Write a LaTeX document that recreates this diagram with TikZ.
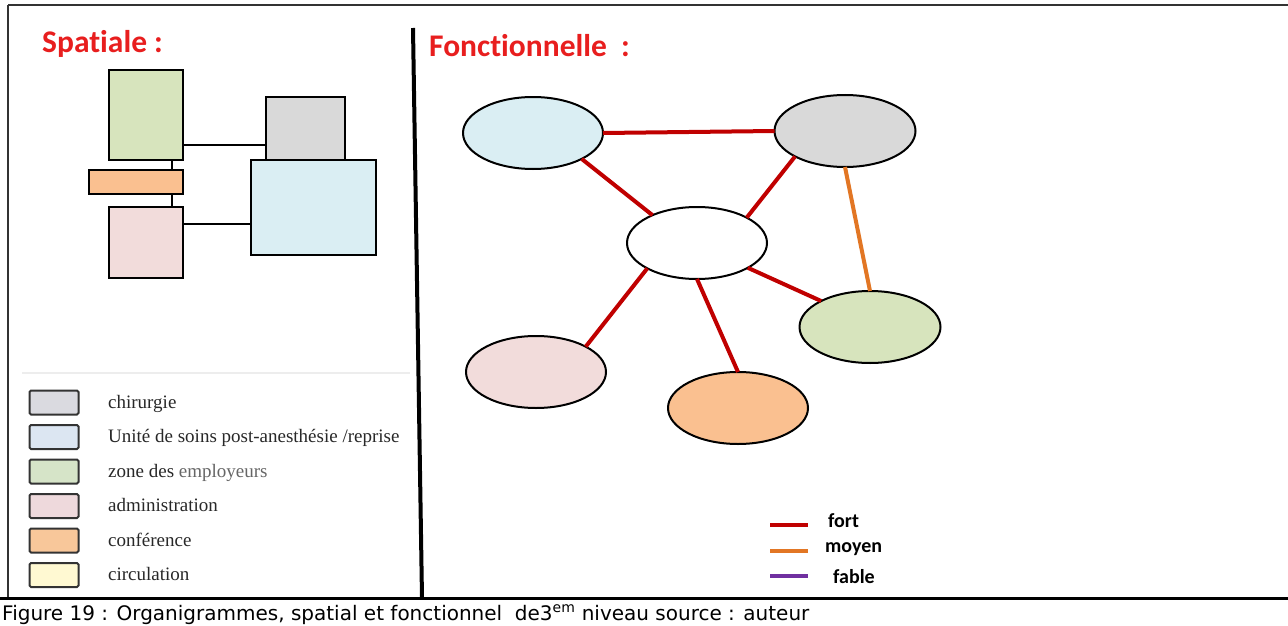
\documentclass[tikz,border=0pt]{standalone}
\usepackage{fontspec}
\setmainfont{Liberation Serif}
\newfontfamily\carlito[Ligatures=NoCommon]{Carlito}
\newfontfamily\dejavu{DejaVu Sans}
\usetikzlibrary{shapes.geometric}

\definecolor{titlered}{RGB}{232,30,30}
\definecolor{strongred}{RGB}{192,0,0}
\definecolor{midorange}{RGB}{226,118,36}
\definecolor{weakpurple}{RGB}{112,48,160}
\definecolor{cgreen}{RGB}{215,228,189}
\definecolor{cgray}{RGB}{217,217,217}
\definecolor{cblue}{RGB}{218,238,243}
\definecolor{corange}{RGB}{250,192,144}
\definecolor{cpink}{RGB}{242,220,219}
\definecolor{lgray}{RGB}{218,218,224}
\definecolor{lblue}{RGB}{220,230,242}
\definecolor{lgreen}{RGB}{214,228,200}
\definecolor{lpink}{RGB}{238,217,220}
\definecolor{lorange}{RGB}{248,199,154}
\definecolor{lyellow}{RGB}{255,249,210}
\definecolor{legtext}{RGB}{40,40,40}

\tikzset{
  spbox/.style={draw=black, line width=2.5pt, rectangle, inner sep=0pt, outer sep=0pt},
  splink/.style={draw=black, line width=2pt},
  fnode/.style={draw=black, line width=2pt, ellipse, inner sep=0pt, outer sep=0pt,
                minimum width=140pt, minimum height=72pt},
  strong/.style={draw=strongred, line width=4pt},
  medium/.style={draw=midorange, line width=4pt},
  swatch/.style={draw=black!80, line width=2pt, rectangle, rounded corners=1.5pt,
                 minimum width=49pt, minimum height=24pt, inner sep=0pt},
  legentry/.style={anchor=base west, inner sep=0pt, text=legtext,
                   font=\fontsize{19}{22}\selectfont},
  heading/.style={anchor=base west, inner sep=0pt, text=titlered,
                  font=\carlito\bfseries\fontsize{31.5}{36}\selectfont},
  keytext/.style={anchor=base west, inner sep=0pt,
                  font=\carlito\bfseries\fontsize{20}{23}\selectfont},
}

\begin{document}
\begin{tikzpicture}[x=1pt, y=-1pt]
\useasboundingbox (0,0) rectangle (1288,626);
\fill[white] (0,0) rectangle (1288,626);

% frame
\draw[line width=2pt, black!80] (8,5) -- (1288,5);
\draw[line width=2pt, black!80] (8,5) -- (8,598);
\draw[line width=3pt, black] (0,598) -- (1288,598);

% divider between the two diagrams
\draw[line width=4pt, black] (413,28) -- (422,598);

% ---------- spatial organigram ----------
\node[heading] (tsp) at (42,53) {Spatiale :};

\node[spbox, fill=cgreen,  minimum width=74pt,  minimum height=90pt] (sg) at (146,115) {};
\node[spbox, fill=cgray,   minimum width=79pt,  minimum height=63pt] (sc) at (305.5,128.5) {};
\node[spbox, fill=cblue,   minimum width=125pt, minimum height=95pt] (sb) at (313.5,207.5) {};
\node[spbox, fill=corange, minimum width=94pt,  minimum height=24pt] (so) at (136,182) {};
\node[spbox, fill=cpink,   minimum width=74pt,  minimum height=71pt] (sp) at (146,242.5) {};

\coordinate (ya) at (0,145);
\coordinate (yb) at (0,224);
\coordinate (xa) at (172,0);
\draw[splink] (sg.east |- ya) -- (sc.west |- ya);
\draw[splink] (sp.east |- yb) -- (sb.west |- yb);
\draw[splink] (xa |- sg.south) -- (xa |- so.north);
\draw[splink] (xa |- so.south) -- (xa |- sp.north);

% legend of the spatial organigram
\draw[line width=1.2pt, black!7] (22,373) -- (410,373);
\foreach \i/\c/\t in {0/lgray/chirurgie,
                      1/lblue/{Unité de soins post-anesthésie /reprise},
                      2/lgreen/{zone des \textcolor{black!60}{employeurs}},
                      3/lpink/administration,
                      4/lorange/conférence,
                      5/lyellow/circulation}{
  \node[swatch, fill=\c] (sw\i) at (54, 402.5+34.5*\i) {};
  \node[legentry] (lt\i) at (108, 408+34.5*\i) {\t};
}

% ---------- functional organigram ----------
\node[heading] (tfn) at (429,57) {Fonctionnelle\ \ :};

\node[fnode, fill=cblue]   (fb) at (533,133) {};
\node[fnode, fill=cgray, minimum width=141pt] (fc) at (845,131) {};
\node[fnode, fill=white]   (fw) at (697,243) {};
\node[fnode, fill=cgreen, minimum width=141pt] (fg) at (870,327) {};
\node[fnode, fill=cpink]   (fp) at (536,372) {};
\node[fnode, fill=corange] (fo) at (738,408) {};

\draw[strong] (fb.east) -- (fc.west);
\draw[strong] (fb.332) -- (fw.148);
\draw[strong] (fc.207) -- (fw.27);
\draw[strong] (fw.207) -- (fp.27);
\draw[strong] (fw.south) -- (fo.north);
\draw[strong] (fw.334) -- (fg.152);
\draw[medium] (fc.south) -- (fg.north);

% key of link strengths
\coordinate (k1a) at (770,525); \coordinate (k1b) at (808,525);
\coordinate (k2a) at (770,551); \coordinate (k2b) at (808,551);
\coordinate (k3a) at (770,576); \coordinate (k3b) at (808,576);
\draw[line width=4pt, strongred] (k1a) -- (k1b);
\draw[line width=4pt, midorange] (k2a) -- (k2b);
\draw[line width=4pt, weakpurple] (k3a) -- (k3b);
\node[keytext] (kt1) at (828,527) {fort};
\node[keytext] (kt2) at (825,552) {moyen};
\node[keytext] (kt3) at (833,583) {fable};

% caption
\node[anchor=base west, inner sep=0pt, font=\dejavu\fontsize{20}{23}\selectfont] (cap) at (2,620)
  {Figure 19 : Organigrammes, spatial et fonctionnel\ \ de3\textsuperscript{em} niveau source : auteur};
\end{tikzpicture}
\end{document}
